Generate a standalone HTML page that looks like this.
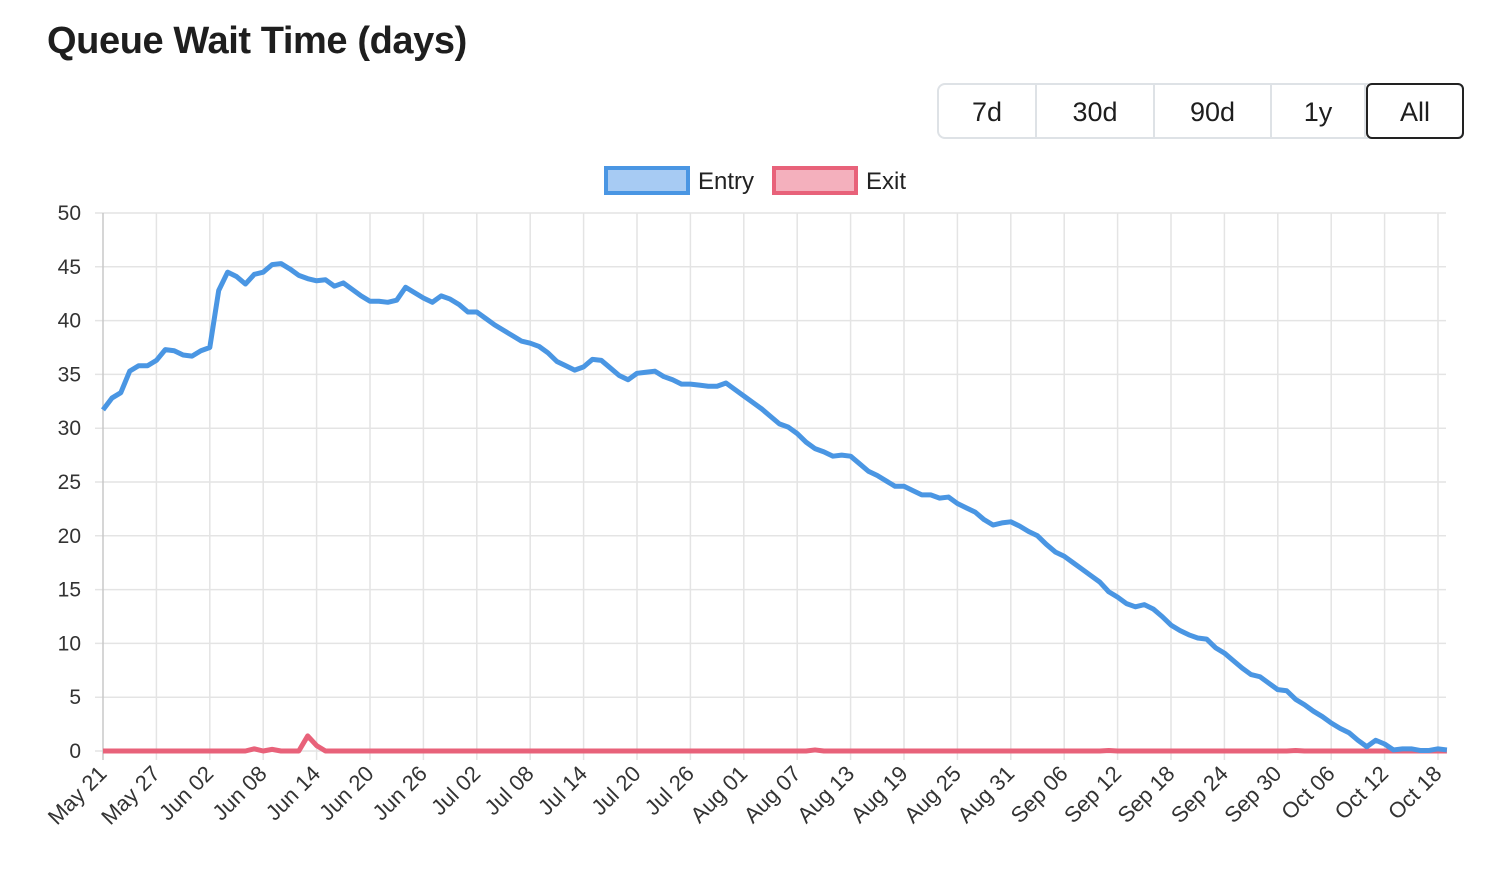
<!DOCTYPE html>
<html><head><meta charset="utf-8">
<style>
body{margin:0;background:#fff;width:1510px;height:886px;overflow:hidden;font-family:"Liberation Sans",sans-serif;color:#212529}
h1{position:absolute;left:47px;top:20px;margin:0;font-size:38px;font-weight:bold;letter-spacing:-0.4px;color:#1e1e1e}
.grp{position:absolute;left:937px;top:83px;height:56px;display:flex;border:2px solid #dee2e6;border-radius:8px;box-sizing:border-box}
.grp div{height:52px;line-height:54px;text-align:center;font-size:27px;color:#1e1e1e;border-right:2px solid #dee2e6;box-sizing:border-box}
.grp div:last-child{border:2px solid #222;border-radius:6px;margin:-2px -2px -2px 0;height:56px;line-height:54px}
svg{position:absolute;left:0;top:0}
</style></head><body>
<h1>Queue Wait Time (days)</h1>
<div class="grp">
<div style="width:98px">7d</div>
<div style="width:118px">30d</div>
<div style="width:117px">90d</div>
<div style="width:94px">1y</div>
<div style="width:98px">All</div>
</div>
<svg id="c" width="1510" height="886"></svg>
<script>
const entry=[31.7,32.8,33.3,35.3,35.8,35.8,36.3,37.3,37.2,36.8,36.7,37.2,37.5,42.8,44.5,44.1,43.4,44.3,44.5,45.2,45.3,44.8,44.2,43.9,43.7,43.8,43.2,43.5,42.9,42.3,41.8,41.8,41.7,41.9,43.1,42.6,42.1,41.7,42.3,42.0,41.5,40.8,40.8,40.2,39.6,39.1,38.6,38.1,37.9,37.6,37.0,36.2,35.8,35.4,35.7,36.4,36.3,35.6,34.9,34.5,35.1,35.2,35.3,34.8,34.5,34.1,34.1,34.0,33.9,33.9,34.2,33.6,33.0,32.4,31.8,31.1,30.4,30.1,29.5,28.7,28.1,27.8,27.4,27.5,27.4,26.7,26.0,25.6,25.1,24.6,24.6,24.2,23.8,23.8,23.5,23.6,23.0,22.6,22.2,21.5,21.0,21.2,21.3,20.9,20.4,20.0,19.2,18.5,18.1,17.5,16.9,16.3,15.7,14.8,14.3,13.7,13.4,13.6,13.2,12.5,11.7,11.2,10.8,10.5,10.4,9.6,9.1,8.4,7.7,7.1,6.9,6.3,5.7,5.6,4.8,4.3,3.7,3.2,2.6,2.1,1.7,1.0,0.4,1.0,0.65,0.1,0.2,0.2,0.05,0.05,0.2,0.1];
const exitV=entry.map(()=>0);
const exitBumps={17:0.2,19:0.15,23:1.4,24:0.5,80:0.1,113:0.05,134:0.05};
for(const k in exitBumps)exitV[k]=exitBumps[k];
const xLabels=["May 21","May 27","Jun 02","Jun 08","Jun 14","Jun 20","Jun 26","Jul 02","Jul 08","Jul 14","Jul 20","Jul 26","Aug 01","Aug 07","Aug 13","Aug 19","Aug 25","Aug 31","Sep 06","Sep 12","Sep 18","Sep 24","Sep 30","Oct 06","Oct 12","Oct 18"];
const yTicks=[0,5,10,15,20,25,30,35,40,45,50];
const L=103,R=1446,T=213,B=751,step=8.9;
const X=i=>L+i*step, Y=v=>B-(v/50)*(B-T);
const svg=document.getElementById('c'),NS="http://www.w3.org/2000/svg";
function mk(t,a,p){const e=document.createElementNS(NS,t);for(const k in a)e.setAttribute(k,a[k]);(p||svg).appendChild(e);return e;}
yTicks.forEach(v=>{
 const l=mk('line',{x1:L-8,x2:R,y1:Y(v),y2:Y(v),stroke:'#e4e4e4','stroke-width':1.5});
 
 
 const t=mk('text',{x:L-22,y:Y(v)+7,'text-anchor':'end','font-size':21,fill:'#333'});
 t.textContent=v;
 
 
});
xLabels.forEach((s,i)=>{
 const x=X(i*6);
 const l=mk('line',{x1:x,x2:x,y1:T,y2:B+9,stroke:i==0?'#c8c8c8':'#e4e4e4','stroke-width':1.5});
 
 
 const t=mk('text',{x:x+5,y:B+24,'text-anchor':'end','font-size':22,fill:'#333',transform:`rotate(-45 ${x+5} ${B+24})`});
 t.textContent=s;
 
 
});
function line(d,c,n){const p=mk('polyline',{points:d.map((v,i)=>X(i)+','+Y(v)).join(' '),fill:'none',stroke:c,'stroke-width':5,'stroke-linejoin':'round'});
 
 }
line(exitV,'#e8627a','exit-line');
line(entry,'#4a96e3','entry-line');
[[604,'#4a96e3','#a7cbf3','Entry','legend-entry'],[772,'#e8627a','#f4b0bd','Exit','legend-exit']].forEach(([x,s,f,txt,n])=>{
 const g=mk('g',{});
 
 
 mk('rect',{x:x+2,y:168,width:82,height:25,fill:f,stroke:s,'stroke-width':4},g);
 const t=mk('text',{x:x+94,y:189,'font-size':24,fill:'#222'},g);t.textContent=txt;
});
</script>
</body></html>
